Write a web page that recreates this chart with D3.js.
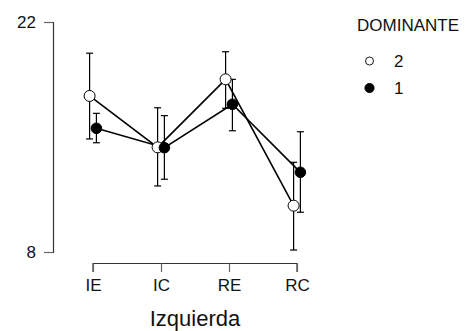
<!DOCTYPE html>
<html>
<head>
<meta charset="utf-8">
<script src="https://cdn.jsdelivr.net/npm/d3@7"></script>
<style>
  body { margin: 0; background: #fff; }
  text { font-family: "Liberation Sans", Arial, sans-serif; fill: #111; }
</style>
</head>
<body>
<div id="chart"></div>
<script>
const categories = ["IE", "IC", "RE", "RC"];
const yTicks = [8, 22];
// DOMINANTE = 2 (open points)
const mean2 = [17.5, 14.37, 18.51, 10.82];
const lower2 = [14.88, 12.02, 16.75, 8.12];
const upper2 = [20.1, 16.78, 20.19, 13.46];
// DOMINANTE = 1 (filled points)
const mean1 = [15.53, 14.35, 16.99, 12.85];
const lower1 = [14.65, 12.43, 15.38, 10.42];
const upper1 = [16.44, 16.3, 18.51, 15.32];
const legendLabels = ["2", "1"];

const width = 472, height = 331;
const dodge = 3.4;

const svg = d3.select("#chart").append("svg")
  .attr("width", width).attr("height", height);

const x = d3.scalePoint().domain(categories).range([93, 297]);
const y = d3.scaleLinear().domain([8, 22]).range([252, 22]);

//y axis
const yAxis = svg.append("g")
  .attr("transform", "translate(53,0)")
  .call(d3.axisLeft(y).tickValues(yTicks).tickSize(9).tickSizeOuter(9).tickPadding(8));
//x axis
const xAxis = svg.append("g")
  .attr("transform", "translate(0,263.5)")
  .call(d3.axisBottom(x).tickSize(8.5).tickSizeOuter(0).tickPadding(7));

[yAxis, xAxis].forEach(ax => {
  ax.select(".domain").attr("stroke", "#333").attr("stroke-width", 1.2);
  ax.selectAll(".tick line").attr("stroke", "#666").attr("stroke-width", 1.2);
  ax.selectAll(".tick text").style("font-size", "17px")
    .style("font-family", "'Liberation Sans', Arial, sans-serif").attr("fill", "#111");
});
xAxis.select(".domain").attr("d", `M${x.range()[0]},8.5V0H${x.range()[1]}V8.5`);

svg.append("text")
  .attr("x", 195).attr("y", 326)
  .attr("text-anchor", "middle")
  .style("font-size", "22px")
  .text("Izquierda");

const series = [
  { means: mean2, lo: lower2, hi: upper2, off: -dodge, fill: "#fff", r: 5.5 },
  { means: mean1, lo: lower1, hi: upper1, off: dodge, fill: "#000", r: 5.3 }
];

const line = d3.line()
  .x(d => d.x).y(d => d.y);

series.forEach(s => {
  const pts = categories.map((c, i) => ({ x: x(c) + s.off, y: y(s.means[i]), lo: y(s.lo[i]), hi: y(s.hi[i]) }));
  s.pts = pts;
  svg.append("path").datum(pts)
    .attr("d", line)
    .attr("fill", "none").attr("stroke", "#000").attr("stroke-width", 1.6);
  const eb = svg.append("g").attr("stroke", "#000").attr("stroke-width", 1.2);
  pts.forEach(p => {
    eb.append("line").attr("x1", p.x).attr("x2", p.x).attr("y1", p.lo).attr("y2", p.hi);
    eb.append("line").attr("x1", p.x - 3.5).attr("x2", p.x + 3.5).attr("y1", p.lo).attr("y2", p.lo);
    eb.append("line").attr("x1", p.x - 3.5).attr("x2", p.x + 3.5).attr("y1", p.hi).attr("y2", p.hi);
  });
});
series.forEach(s => {
  svg.append("g").selectAll("circle").data(s.pts).enter()
    .append("circle")
    .attr("cx", d => d.x).attr("cy", d => d.y).attr("r", s.r)
    .attr("fill", s.fill).attr("stroke", "#000").attr("stroke-width", 1);
});

//legend
const legend = svg.append("g");
legend.append("text").attr("x", 357).attr("y", 31).style("font-size", "17px").text("DOMINANTE");
legendLabels.forEach((lab, i) => {
  const cy = 61 + i * 27;
  legend.append("circle").attr("cx", 369.5).attr("cy", cy).attr("r", i === 0 ? 4 : 4.6)
    .attr("fill", i === 0 ? "#fff" : "#000").attr("stroke", "#000").attr("stroke-width", 0.9);
  legend.append("text").attr("x", 394).attr("y", cy + 5.5).style("font-size", "17px").text(lab);
});
</script>
</body>
</html>
